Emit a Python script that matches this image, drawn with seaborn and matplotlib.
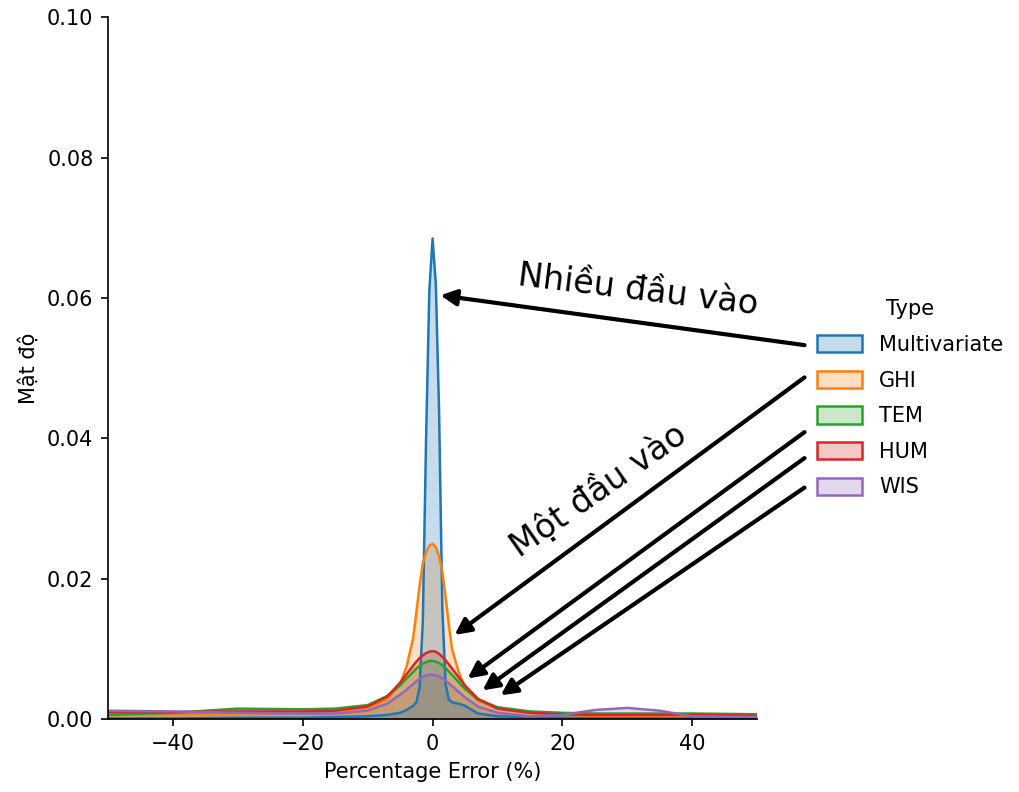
import pandas as pd
import seaborn as sns
import matplotlib.pyplot as plt
from matplotlib.patches import Patch

# Density curves
x_grid = [-50, -40, -30, -20, -15, -10, -7, -5, -4, -3, -2.5, -2, -1.5, -1, -0.5, 0,
          0.5, 1, 1.5, 2, 2.5, 3, 4, 5, 7, 10, 15, 20, 25, 30, 35, 40, 50]

multivariate = [0.0001, 0.0001, 0.0002, 0.0002, 0.0003, 0.0004, 0.0006, 0.0009, 0.0013, 0.0019,
                0.0024, 0.0045, 0.0140, 0.0400, 0.0610, 0.0685, 0.0620, 0.0440, 0.0160, 0.0050,
                0.0028, 0.0024, 0.0022, 0.0019, 0.0008, 0.0004, 0.0003, 0.0002, 0.0002, 0.0002,
                0.0001, 0.0001, 0.0001]
ghi = [0.0007, 0.0007, 0.0008, 0.0009, 0.0010, 0.0016, 0.0028, 0.0050, 0.0075, 0.0115,
       0.0152, 0.0190, 0.0222, 0.0238, 0.0247, 0.0250, 0.0245, 0.0232, 0.0210, 0.0175,
       0.0135, 0.0100, 0.0068, 0.0046, 0.0026, 0.0015, 0.0009, 0.0006, 0.0005, 0.0005,
       0.0005, 0.0005, 0.0005]
tem = [0.0006, 0.0009, 0.0015, 0.0014, 0.0015, 0.0020, 0.0033, 0.0048, 0.0058, 0.0067,
       0.0072, 0.0076, 0.0079, 0.0081, 0.0083, 0.0083, 0.0082, 0.0080, 0.0077, 0.0073,
       0.0068, 0.0063, 0.0053, 0.0043, 0.0028, 0.0017, 0.0011, 0.0009, 0.0008, 0.0008,
       0.0008, 0.0008, 0.0007]
hum = [0.0010, 0.0010, 0.0011, 0.0011, 0.0012, 0.0018, 0.0032, 0.0052, 0.0064, 0.0076,
       0.0082, 0.0087, 0.0091, 0.0094, 0.0096, 0.0097, 0.0096, 0.0093, 0.0089, 0.0084,
       0.0078, 0.0072, 0.0060, 0.0048, 0.0029, 0.0015, 0.0009, 0.0007, 0.0006, 0.0006,
       0.0006, 0.0006, 0.0005]
wis = [0.0012, 0.0011, 0.0009, 0.0008, 0.0008, 0.0012, 0.0022, 0.0035, 0.0042, 0.0050,
       0.0054, 0.0057, 0.0060, 0.0062, 0.0063, 0.0063, 0.0062, 0.0061, 0.0058, 0.0055,
       0.0051, 0.0047, 0.0039, 0.0031, 0.0018, 0.0009, 0.0004, 0.0006, 0.0013, 0.0016,
       0.0012, 0.0004, 0.0003]

types = ['Multivariate', 'GHI', 'TEM', 'HUM', 'WIS']
series = [multivariate, ghi, tem, hum, wis]

# Arrow heads (data coords) and tails (beyond the axes, near legend)
arrow_heads = [(1.2, 0.0604), (3.4, 0.0120), (5.4, 0.0058), (7.7, 0.0041), (10.5, 0.0034)]
arrow_tails = [(57.3, 0.0533), (57.3, 0.0487), (57.3, 0.0409), (57.3, 0.0372), (57.3, 0.0330)]

rows = []
for name, vals in zip(types, series):
    for xv, yv in zip(x_grid, vals):
        rows.append({'Percentage Error (%)': xv, 'Mật độ': yv, 'Type': name})
df = pd.DataFrame(rows)

palette = sns.color_palette('tab10', len(types))

fig = plt.figure(figsize=(1019 / 150, 792 / 150), dpi=150)
ax = fig.add_axes([0.106, 0.092, 0.637, 0.886])

for name, color in zip(types[::-1], palette[::-1]):
    sub = df[df['Type'] == name]
    ax.fill_between(sub['Percentage Error (%)'], sub['Mật độ'], color=color, alpha=0.25, lw=0)

sns.lineplot(data=df, x='Percentage Error (%)', y='Mật độ', hue='Type', hue_order=types,
             palette=palette, linewidth=1.2, legend=False, ax=ax)

ax.set_xlim(-50, 50)
ax.set_ylim(0, 0.10)
ax.set_xticks([-40, -20, 0, 20, 40])
ax.set_yticks([0, 0.02, 0.04, 0.06, 0.08, 0.10])
ax.set_yticklabels(['0.00', '0.02', '0.04', '0.06', '0.08', '0.10'])
ax.set_xlabel('Percentage Error (%)')
ax.set_ylabel('Mật độ')
sns.despine(ax=ax)

for head, tail in zip(arrow_heads, arrow_tails):
    ax.annotate('', xy=head, xytext=tail, xycoords='data', textcoords='data',
                arrowprops=dict(arrowstyle='-|>', color='black', lw=2, mutation_scale=16,
                                shrinkA=0, shrinkB=0),
                annotation_clip=False)

ax.text(31.7, 0.0611, 'Nhiều đầu vào', fontsize=16, rotation=-7,
        ha='center', va='center', rotation_mode='anchor', clip_on=False)
ax.text(25.5, 0.0326, 'Một đầu vào', fontsize=16, rotation=35,
        ha='center', va='center', rotation_mode='anchor', clip_on=False)

handles = [Patch(facecolor=(*c, 0.25), edgecolor=c, linewidth=1.2) for c in palette]
fig.legend(handles, types, title='Type', loc='center left', bbox_to_anchor=(0.783, 0.497),
           frameon=False, fontsize=10, title_fontsize=10,
           labelspacing=0.75, handlelength=2.2, handleheight=0.9)

fig.savefig('out.png', dpi=150)
